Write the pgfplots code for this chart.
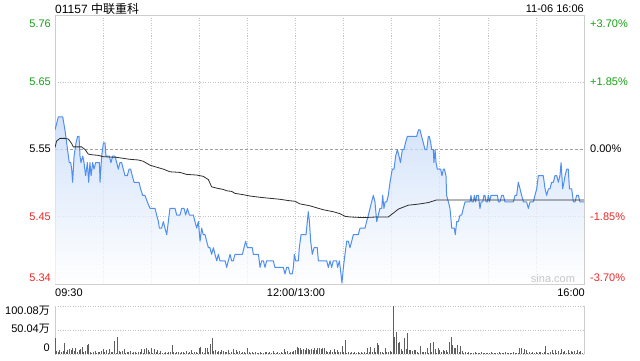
\documentclass[border=0pt]{standalone}
\usepackage{fontspec}
\setmainfont{Liberation Sans}
\newfontfamily\cjk{Noto Sans CJK SC}
\usepackage{pgfplots}
\pgfplotsset{compat=1.18}
\usepackage{pgfplotstable}
\definecolor{sgreen}{RGB}{20,160,20}
\definecolor{sred}{RGB}{235,40,40}
\definecolor{sblue}{RGB}{80,142,240}
\definecolor{sgrid}{RGB}{195,195,195}
\definecolor{sborder}{RGB}{205,205,205}
\definecolor{savg}{RGB}{45,45,45}
\definecolor{vbar}{RGB}{95,95,95}
\definecolor{ftop}{RGB}{195,216,248}

\pgfplotstableread{
t p
0 5.58
2.1 5.60
4.8 5.60
6.2 5.58
8.9 5.53
9.8 5.53
10.4 5.52
11.0 5.50
11.9 5.54
13.1 5.56
14.1 5.57
15.0 5.57
15.6 5.54
16.2 5.53
17.3 5.54
18.1 5.53
19.1 5.51
20.2 5.53
21.0 5.50
21.8 5.53
22.5 5.51
23.5 5.53
24.3 5.52
25.4 5.53
27.7 5.53
28.1 5.50
29.1 5.54
30.2 5.56
31.2 5.56
31.8 5.54
33.9 5.54
34.9 5.53
36.0 5.54
37.4 5.54
38.5 5.53
39.5 5.52
40.5 5.53
41.6 5.53
42.6 5.52
43.7 5.51
45.1 5.51
46.2 5.52
47.2 5.52
48.2 5.51
49.3 5.50
52.4 5.50
53.4 5.49
54.7 5.48
56.1 5.48
57.6 5.47
59.3 5.46
62.4 5.46
63.4 5.45
64.5 5.44
65.1 5.43
66.5 5.43
67.6 5.44
68.6 5.43
69.7 5.42
70.7 5.44
71.7 5.46
74.9 5.46
75.9 5.45
78.0 5.45
79.0 5.46
80.5 5.46
81.5 5.45
82.6 5.46
83.8 5.45
86.3 5.45
87.3 5.44
88.4 5.43
89.4 5.44
90.5 5.41
91.5 5.43
92.5 5.42
93.6 5.42
94.6 5.41
95.7 5.40
96.7 5.40
97.7 5.39
98.8 5.40
99.8 5.39
100.9 5.38
101.9 5.39
102.9 5.38
104.0 5.38
105.0 5.38
106.1 5.38
107.1 5.37
108.1 5.38
109.2 5.39
110.2 5.38
111.2 5.38
112.3 5.39
116.9 5.39
117.9 5.40
118.9 5.41
120.0 5.40
123.1 5.40
123.7 5.39
126.9 5.39
127.9 5.37
128.9 5.38
130.0 5.38
131.0 5.37
132.0 5.38
136.2 5.38
137.2 5.37
142.4 5.37
143.5 5.36
144.5 5.37
145.6 5.37
146.6 5.36
148.0 5.36
148.7 5.37
149.3 5.39
150.1 5.38
151.8 5.38
152.4 5.40
153.5 5.42
156.6 5.42
157.4 5.44
158.0 5.455
158.7 5.44
159.5 5.41
160.5 5.39
161.6 5.40
163.6 5.40
164.3 5.38
169.5 5.38
170.5 5.37
171.6 5.38
172.6 5.37
173.6 5.38
175.7 5.38
176.3 5.37
177.4 5.38
178.4 5.36
179.0 5.346
179.9 5.37
180.9 5.39
182.0 5.41
183.0 5.41
184.0 5.40
185.1 5.41
186.1 5.42
189.2 5.42
190.3 5.43
193.4 5.43
194.4 5.44
195.5 5.45
196.5 5.46
197.5 5.47
198.6 5.48
199.6 5.47
200.7 5.44
201.7 5.45
202.7 5.46
203.8 5.46
204.4 5.48
205.2 5.46
205.9 5.47
206.9 5.47
207.9 5.48
209.0 5.50
210.4 5.52
211.5 5.52
212.5 5.54
213.6 5.55
214.6 5.54
215.5 5.53
216.7 5.55
217.7 5.55
218.6 5.56
219.8 5.57
225.6 5.57
226.7 5.58
227.7 5.58
228.7 5.57
229.8 5.56
230.8 5.55
231.9 5.55
232.9 5.57
233.5 5.57
234.4 5.56
235.0 5.55
236.0 5.55
236.4 5.53
237.1 5.55
237.7 5.53
238.5 5.52
240.6 5.52
241.4 5.51
242.3 5.52
242.9 5.52
243.9 5.51
244.3 5.48
245.4 5.47
246.4 5.46
247.5 5.43
248.5 5.43
249.1 5.43
249.7 5.42
250.6 5.44
251.6 5.44
252.7 5.45
253.7 5.45
254.7 5.46
255.8 5.47
258.9 5.47
259.5 5.48
260.1 5.47
261.0 5.47
261.6 5.48
262.4 5.47
263.1 5.48
264.1 5.48
265.1 5.46
265.8 5.47
266.8 5.47
267.6 5.48
268.2 5.48
268.9 5.47
269.7 5.47
270.3 5.48
271.0 5.47
272.0 5.48
276.0 5.48
276.6 5.47
277.6 5.47
278.6 5.48
279.7 5.48
280.7 5.47
285.9 5.47
287.0 5.48
288.0 5.48
289.0 5.50
290.1 5.49
291.1 5.48
292.2 5.47
294.2 5.47
295.3 5.46
296.3 5.47
298.4 5.47
299.4 5.48
300.5 5.49
301.5 5.51
304.6 5.51
305.7 5.49
306.7 5.48
307.8 5.49
308.8 5.49
309.8 5.50
310.9 5.50
311.9 5.51
313.0 5.51
314.0 5.50
315.0 5.51
315.7 5.53
316.7 5.49
317.5 5.50
318.2 5.51
319.2 5.52
320.2 5.52
320.9 5.49
322.3 5.49
323.4 5.47
324.4 5.47
325.4 5.48
326.5 5.48
327.5 5.47
330 5.47
}\pricedata

\pgfplotstableread{
t p
0 5.553
1.0 5.563
3.1 5.567
6.2 5.567
8.3 5.566
10.4 5.559
11.4 5.554
16.6 5.554
18.7 5.550
20.8 5.543
22.9 5.542
27.0 5.541
30.2 5.539
38.5 5.538
46.8 5.535
52.0 5.534
55.1 5.532
59.3 5.526
63.4 5.523
67.6 5.520
71.7 5.516
78.0 5.515
82.1 5.512
88.4 5.511
92.5 5.509
95.7 5.504
97.7 5.493
100.9 5.491
105.0 5.489
107.1 5.487
110.2 5.486
112.3 5.483
117.5 5.481
121.6 5.479
127.9 5.477
132.0 5.476
140.4 5.474
145.6 5.472
149.7 5.471
152.8 5.467
159.1 5.464
163.2 5.461
167.4 5.458
173.6 5.455
177.8 5.452
180.9 5.448
184.0 5.447
192.3 5.446
200.7 5.447
207.9 5.447
211.1 5.453
214.2 5.459
217.3 5.462
220.4 5.465
224.6 5.466
227.7 5.467
232.9 5.469
238.1 5.473
330 5.473
}\avgdata

\begin{document}
\begin{tikzpicture}[x=1pt,y=1pt]
\path[use as bounding box] (0,0) rectangle (640,360);

\begin{axis}[
  at={(55pt,76pt)}, anchor=south west,
  width=529pt, height=269pt, scale only axis,
  xmin=0, xmax=330, ymin=5.34465, ymax=5.75535,
  xtick={30,60,...,300}, xticklabels={},
  ytick={5.44733,5.65268}, yticklabels={},
  major tick length=0,
  xmajorgrids, ymajorgrids,
  major grid style={draw=sgrid, line width=0.6pt, dash pattern=on 1pt off 1.5pt},
  extra y ticks={5.55}, extra y tick labels={},
  extra y tick style={ymajorgrids=true, major grid style={draw=gray!75, line width=0.6pt, dash pattern=on 3pt off 2pt}},
  axis line style={draw=sborder, line width=0.8pt},
]
\addplot[draw=none, fill opacity=0.75, top color=ftop, bottom color=white] table[x=t,y=p]{\pricedata} |- (axis cs:0,5.34465) -- cycle;
\addplot[sblue, line width=1pt, line join=round] table[x=t,y=p]{\pricedata};
\addplot[savg, line width=0.8pt] table[x=t,y=p]{\avgdata};
\end{axis}

\begin{axis}[
  at={(55pt,6pt)}, anchor=south west,
  width=529pt, height=48pt, scale only axis,
  xmin=0, xmax=330, ymin=0, ymax=100.08,
  xtick=\empty, ytick={0,50.04,100.08}, yticklabels={},
  major tick length=0,
  ymajorgrids,
  major grid style={draw=sgrid, line width=0.6pt, dash pattern=on 1pt off 1.5pt},
  separate axis lines,
  x axis line style={draw=none},
  y axis line style={draw=sborder, line width=0.8pt},
]
\addplot[ycomb, draw=vbar, line width=0.8pt] coordinates {
(0,32.7)(1,7)(2,5)(3,8)(4,4)(5,6)(6,22)(7,5)(8,9)(9,10)
(10,8)(11,12)(12,6)(13,13)(14,5)(15,9)(16,10)(17,15)(18,4)(19,6)
(20,19)(21,20)(22,5)(23,3)(24,4)(25,6)(26,3)(27,5)(28,4)(29,6)
(30,10)(31,4)(32,8)(33,3)(34,10)(35,5)(36,4)(37,27)(38,3)(39,36)
(40,6)(41,4)(42,6)(43,10)(44,3)(45,5)(46,4)(47,6)(48,3)(49,5)
(50,4)(51,3)(52,5)(53,4)(54,10)(55,3)(56,10)(57,12)(58,8)(59,4)
(60,12)(61,3)(62,10)(63,4)(64,8)(65,3)(66,6)(67,2)(68,3)(69,4)
(70,3)(71,4)(72,5)(73,19)(74,4)(75,3)(76,5)(77,4)(78,3)(79,5)
(80,4)(81,3)(82,6)(83,3)(84,4)(85,8)(86,3)(87,4)(88,5)(89,3)
(90,12)(91,15)(92,5)(93,3)(94,12)(95,13)(96,4)(97,20)(98,33)(99,6)
(100,8)(101,5)(102,7)(103,4)(104,8)(105,6)(106,5)(107,4)(108,8)(109,3)
(110,4)(111,10)(112,3)(113,8)(114,4)(115,6)(116,3)(117,4)(118,5)(119,3)
(120,12)(121,4)(122,3)(123,5)(124,3)(125,4)(126,2)(127,3)(128,4)(129,3)
(130,3)(131,4)(132,5)(133,3)(134,4)(135,3)(136,6)(137,2)(138,3)(139,4)
(140,3)(141,4)(142,3)(143,10)(144,4)(145,6)(146,3)(147,5)(148,4)(149,6)
(150,8)(151,15)(152,12)(153,13)(154,9)(155,11)(156,8)(157,12)(158,10)(159,9)
(160,11)(161,8)(162,13)(163,9)(164,12)(165,13)(166,10)(167,13)(168,12)(169,6)
(170,5)(171,4)(172,8)(173,4)(174,10)(175,5)(176,8)(177,4)(178,5)(179,17)
(180,4)(181,29)(182,3)(183,4)(184,3)(185,5)(186,3)(187,4)(188,3)(189,4)
(190,3)(191,4)(192,3)(193,5)(194,3)(195,13)(196,4)(197,15)(198,4)(199,12)
(200,5)(201,22)(202,19)(203,4)(204,5)(205,3)(206,12)(207,4)(208,5)(209,6)
(210,5)(211,100.08)(212,36)(213,46)(214,23)(215,26)(216,10)(217,6)(218,33)(219,10)
(220,44)(221,8)(222,8)(223,7)(224,8)(225,8)(226,5)(227,3)(228,17)(229,4)
(230,5)(231,4)(232,12)(233,3)(234,22)(235,4)(236,26)(237,10)(238,3)(239,12)
(240,8)(241,5)(242,8)(243,6)(244,8)(245,4)(246,26)(247,36)(248,19)(249,12)
(250,12)(251,19)(252,4)(253,17)(254,6)(255,3)(256,4)(257,3)(258,4)(259,3)
(260,3)(261,2)(262,4)(263,3)(264,2)(265,3)(266,4)(267,2)(268,3)(269,3)
(270,2)(271,3)(272,4)(273,2)(274,3)(275,3)(276,2)(277,4)(278,3)(279,2)
(280,3)(281,4)(282,2)(283,3)(284,3)(285,2)(286,4)(287,3)(288,2)(289,3)
(290,12)(291,12)(292,3)(293,10)(294,8)(295,3)(296,4)(297,2)(298,5)(299,3)
(300,5)(301,3)(302,4)(303,5)(304,3)(305,4)(306,17)(307,3)(308,3)(309,4)
(310,8)(311,3)(312,8)(313,3)(314,6)(315,3)(316,10)(317,4)(318,6)(319,3)
(320,8)(321,3)(322,6)(323,4)(324,6)(325,3)(326,8)(327,4)(328,6)(329,3)
(330,4)
};
\end{axis}

% labels
\begin{scope}[every node/.style={inner sep=0pt, font=\fontsize{11}{13}\selectfont}]
\node[anchor=west, font=\fontsize{12}{14}\selectfont] at (55,351) {01157 {\cjk 中联重科}};
\node[anchor=east] at (584,351) {11-06 16:06};
\node[anchor=east, text=sgreen] at (51,336) {5.76};
\node[anchor=east, text=sgreen] at (51,278) {5.65};
\node[anchor=east, text=black] at (51,211) {5.55};
\node[anchor=east, text=sred] at (51,143) {5.45};
\node[anchor=east, text=sred] at (51,82) {5.34};
\node[anchor=west, text=sgreen] at (590,336) {+3.70\%};
\node[anchor=west, text=sgreen] at (590,278) {+1.85\%};
\node[anchor=west, text=black] at (590,211) {0.00\%};
\node[anchor=west, text=sred] at (590,143) {-1.85\%};
\node[anchor=west, text=sred] at (590,82) {-3.70\%};
\node[anchor=west] at (55,67) {09:30};
\node at (296,67) {12:00/13:00};
\node[anchor=east] at (585,67) {16:00};
\node[text=gray!45] at (553,81) {sina.com};
\node[anchor=east] at (50,49) {100.08{\cjk 万}};
\node[anchor=east] at (50,31) {50.04{\cjk 万}};
\node[anchor=east] at (50,12) {0};
\end{scope}
\end{tikzpicture}
\end{document}
